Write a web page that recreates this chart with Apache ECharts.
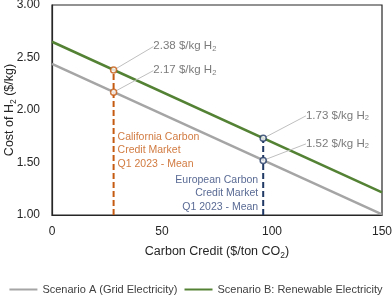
<!DOCTYPE html>
<html><head><meta charset="utf-8">
<script src="https://cdn.jsdelivr.net/npm/echarts@6/dist/echarts.min.js"></script>
<style>html,body{margin:0;padding:0;background:#fff}#c{width:392px;height:295px}</style>
</head><body><div id="c"></div>
<script>
const FONT = "'Liberation Sans', Arial, sans-serif";
const seriesNames = ['Scenario A (Grid Electricity)', 'Scenario B: Renewable Electricity'];
const scenarioA = [[0, 2.44], [150, 1.005]];
const scenarioB = [[0, 2.65], [150, 1.215]];
const californiaCredit = 28;
const europeanCredit = 96;
const californiaValues = [2.38, 2.17];
const europeanValues = [1.73, 1.52];
const californiaText = 'California Carbon\nCredit Market\nQ1 2023 - Mean';
const europeanText = 'European Carbon\nCredit Market\nQ1 2023 - Mean';
const yTicks = ['1.00', '1.50', '2.00', '2.50', '3.00'];
const xTicks = ['0', '50', '100', '150'];

const GRAY = '#A5A5A5', GREEN = '#548235', ORANGE = '#C55A11', NAVY = '#203864', NAVYTXT = '#2E4478';

const chart = echarts.init(document.getElementById('c'), null, {renderer: 'canvas'});

const calPts = californiaValues.map(v => [californiaCredit, v]);
const euPts = europeanValues.map(v => [europeanCredit, v]);
const labelOffsets = {cal: [[36, -24], [36, -22]], eu: [[39, -23], [39, -17]]};

function pointSeries(pts, color, offs) {
  return {
    type: 'scatter', data: pts, symbol: 'circle', symbolSize: 6,
    itemStyle: {color: '#fff', borderColor: color, borderWidth: 1.5},
    z: 5,
    label: {
      show: true, position: 'right', distance: 0,
      formatter: p => p.value[1].toFixed(2) + ' $/kg H{s|2}',
      fontFamily: FONT, fontSize: 11.5, color: '#595959',
      rich: {s: {fontSize: 7.5, verticalAlign: 'bottom', padding: [6, 0, 0, 0], color: '#595959', fontFamily: FONT}}
    },
    labelLayout: p => ({dx: offs[p.dataIndex][0], dy: offs[p.dataIndex][1]}),
    labelLine: {show: true, lineStyle: {color: '#BFBFBF', width: 1}},
    silent: true
  };
}

const option = {
  animation: false,
  grid: {left: 52, right: 10, top: 5, bottom: 80, outerBoundsMode: 'none', containLabel: false,
    show: true, borderColor: '#262626', borderWidth: 1.2},
  legend: {
    top: 279, left: 'center', itemGap: 7, itemWidth: 28, itemHeight: 2,
    textStyle: {fontFamily: FONT, fontSize: 11, color: '#404040'},
    data: seriesNames.map(n => ({name: n, icon: 'rect'}))
  },
  xAxis: {
    type: 'value', min: 0, max: 150, interval: 50,
    name: 'Carbon Credit ($/ton CO{s|2})', nameLocation: 'middle', nameGap: 28, nameMoveOverlap: false,
    nameTextStyle: {fontFamily: FONT, fontSize: 12.5, color: '#262626',
      rich: {s: {fontSize: 8.5, verticalAlign: 'bottom', padding: [8, 0, 0, 0], color: '#262626', fontFamily: FONT}}},
    axisLine: {lineStyle: {color: '#262626', width: 1.2}},
    axisTick: {show: false}, splitLine: {show: false},
    axisLabel: {fontFamily: FONT, fontSize: 12, color: '#262626', margin: 11,
      formatter: v => xTicks[Math.round(v / 50)]}
  },
  yAxis: {
    type: 'value', min: 1, max: 3, interval: 0.5,
    name: 'Cost of H{s|2} ($/kg)', nameLocation: 'middle', nameGap: 34, nameRotate: 90, nameMoveOverlap: false,
    nameTextStyle: {fontFamily: FONT, fontSize: 12.5, color: '#262626',
      rich: {s: {fontSize: 8.5, verticalAlign: 'bottom', padding: [8, 0, 0, 0], color: '#262626', fontFamily: FONT}}},
    axisLine: {show: true, lineStyle: {color: '#262626', width: 1.2}},
    axisTick: {show: false}, splitLine: {show: false},
    axisLabel: {fontFamily: FONT, fontSize: 12, color: '#262626', margin: 12,
      formatter: v => yTicks[Math.round((v - 1) / 0.5)]}
  },
  series: [
    {name: seriesNames[0], type: 'line', data: scenarioA, symbol: 'none', color: GRAY, lineStyle: {width: 2.5, color: GRAY}, z: 2},
    {name: seriesNames[1], type: 'line', data: scenarioB, symbol: 'none', color: GREEN, lineStyle: {width: 2.5, color: GREEN}, z: 2},
    {type: 'line', data: [[californiaCredit, 1], [californiaCredit, californiaValues[0]]], symbol: 'none',
      lineStyle: {width: 2, color: ORANGE, type: [6, 3]}, z: 3, silent: true},
    {type: 'line', data: [[europeanCredit, 1], [europeanCredit, europeanValues[0]]], symbol: 'none',
      lineStyle: {width: 2, color: NAVY, type: [6, 3]}, z: 3, silent: true},
    pointSeries(calPts, ORANGE, labelOffsets.cal),
    pointSeries(euPts, NAVY, labelOffsets.eu),
    {type: 'scatter', symbolSize: 0, silent: true, z: 6,
      data: [{value: [californiaCredit, 1], label: {show: true, formatter: californiaText, position: [4, -85], align: 'left', verticalAlign: 'top',
        fontFamily: FONT, fontSize: 10.5, lineHeight: 13.5, color: ORANGE}},
        {value: [europeanCredit, 1], label: {show: true, formatter: europeanText, position: [-5, -42], align: 'right', verticalAlign: 'top',
        fontFamily: FONT, fontSize: 10.5, lineHeight: 13.5, color: NAVYTXT}}]}
  ]
};
chart.setOption(option);
</script></body></html>
